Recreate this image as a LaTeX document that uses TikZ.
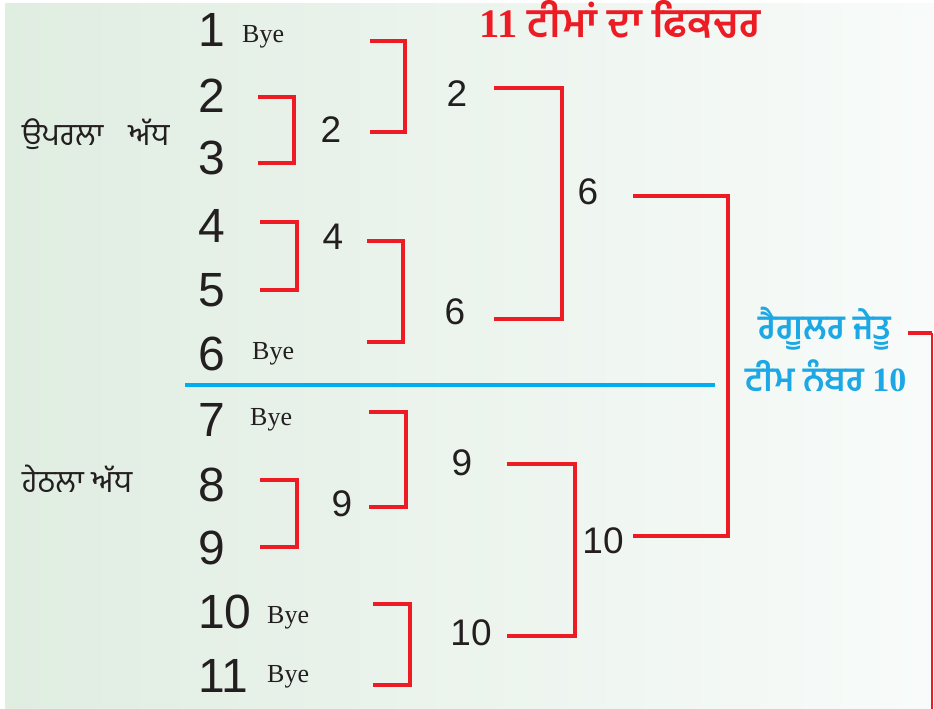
\documentclass[tikz,border=0pt]{standalone}
\usepackage{fontspec}
\setmainfont{Liberation Sans}
\newfontfamily\pa[Script=Gurmukhi]{Hind Jalandhar}
\newfontfamily\srf{Liberation Serif}
\definecolor{fixred}{HTML}{ED1C24}
\definecolor{fixblue}{HTML}{1BA8E4}
\definecolor{lineblue}{HTML}{00AEEF}
\definecolor{bgl}{HTML}{E0EDE1}
\definecolor{bgr}{HTML}{F8FBFA}
\definecolor{ink}{HTML}{231F20}
\begin{document}
\begin{tikzpicture}[x=1pt,y=-1pt,
  team/.style={anchor=west,inner sep=0pt,text=ink,font=\fontsize{48}{48}\selectfont},
  win/.style={inner sep=0pt,text=ink,font=\fontsize{37}{37}\selectfont},
  bye/.style={anchor=base west,inner sep=0pt,text=ink,font=\srf\fontsize{26}{26}\selectfont},
  br/.style={draw=fixred,line width=3.6pt,line join=miter},
  half/.style={anchor=base west,inner sep=0pt,text=ink,font=\pa\fontsize{31}{31}\selectfont},
  bluelab/.style={anchor=base,inner sep=0pt,text=fixblue,font=\pa\bfseries\fontsize{34}{34}\selectfont}]
\useasboundingbox (0,0) rectangle (934,709);
\shade[left color=bgl,right color=bgr] (5,4) rectangle (934,709);
% title
\node[anchor=base,inner sep=0pt,text=fixred,font=\pa\bfseries\fontsize{40.5}{40.5}\selectfont] (title) at (620,38) {{\srf\bfseries 11} ਟੀਮਾਂ ਦਾ ਫਿਕਚਰ};
% halves
\node[half] (upper) at (22,145) {ਉਪਰਲਾ\hspace{25pt}ਅੱਧ};
\node[half] (lower) at (22,492) {ਹੇਠਲਾ ਅੱਧ};
% teams
\node[team] (t1) at (198,30) {1};
\node[team] (t2) at (198,96) {2};
\node[team] (t3) at (198,158) {3};
\node[team] (t4) at (198,226) {4};
\node[team] (t5) at (198,290) {5};
\node[team] (t6) at (198,354) {6};
\node[team] (t7) at (198,420) {7};
\node[team] (t8) at (198,485) {8};
\node[team] (t9) at (198,548) {9};
\node[team] (t10) at (198,612) {10};
\node[team] (t11) at (198,676) {11};
% byes
\node[bye] (y1) at (242,43) {Bye};
\node[bye] (y6) at (252,359) {Bye};
\node[bye] (y7) at (250,425) {Bye};
\node[bye] (y10) at (267,623) {Bye};
\node[bye] (y11) at (267,682) {Bye};
% winners
\node[win] (w23) at (331,130) {2};
\node[win] (w45) at (333,237) {4};
\node[win] (w89) at (342,504) {9};
\node[win] (wa) at (457,94) {2};
\node[win] (wb) at (455,312) {6};
\node[win] (wc) at (462,463) {9};
\node[win] (wd) at (471,633) {10};
\node[win] (we) at (588,192) {6};
\node[win] (wf) at (603,541) {10};
% right labels
\node[bluelab] (reg) at (825,339) {ਰੈਗੂਲਰ ਜੇਤੂ};
\node[bluelab] (num) at (826,391) {ਟੀਮ ਨੰਬਰ {\srf\bfseries 10}};
% bracket end points
\coordinate (a1) at (258,97);  \coordinate (a2) at (258,163);
\coordinate (b1) at (370,41);  \coordinate (b2) at (370,132);
\coordinate (c1) at (260,222); \coordinate (c2) at (260,290);
\coordinate (d1) at (367,241); \coordinate (d2) at (367,342);
\coordinate (e1) at (494,88);  \coordinate (e2) at (494,319);
\coordinate (f1) at (633,196); \coordinate (f2) at (633,536);
\coordinate (g1) at (369,412); \coordinate (g2) at (369,507);
\coordinate (h1) at (260,480); \coordinate (h2) at (260,547);
\coordinate (i1) at (373,604); \coordinate (i2) at (373,685);
\coordinate (j1) at (507,464); \coordinate (j2) at (507,636);
\coordinate (r1) at (908,333); \coordinate (rc) at (932,333); \coordinate (r2) at (932,709);
% brackets
\draw[br] (a1) -- ++(36,0) |- (a2);
\draw[br] (b1) -- ++(35,0) |- (b2);
\draw[br] (c1) -- ++(37,0) |- (c2);
\draw[br] (d1) -- ++(36,0) |- (d2);
\draw[br] (e1) -- ++(68,0) |- (e2);
\draw[br] (f1) -- ++(95,0) |- (f2);
\draw[br] (g1) -- ++(37,0) |- (g2);
\draw[br] (h1) -- ++(37,0) |- (h2);
\draw[br] (i1) -- ++(37,0) |- (i2);
\draw[br] (j1) -- ++(68,0) |- (j2);
\draw[br] (r1) -- (rc);
\draw[draw=fixred,line width=2pt] (rc) -- (r2);
% divider
\draw[lineblue,line width=4.5pt] (185,385) -- (715,385);
\end{tikzpicture}
\end{document}
